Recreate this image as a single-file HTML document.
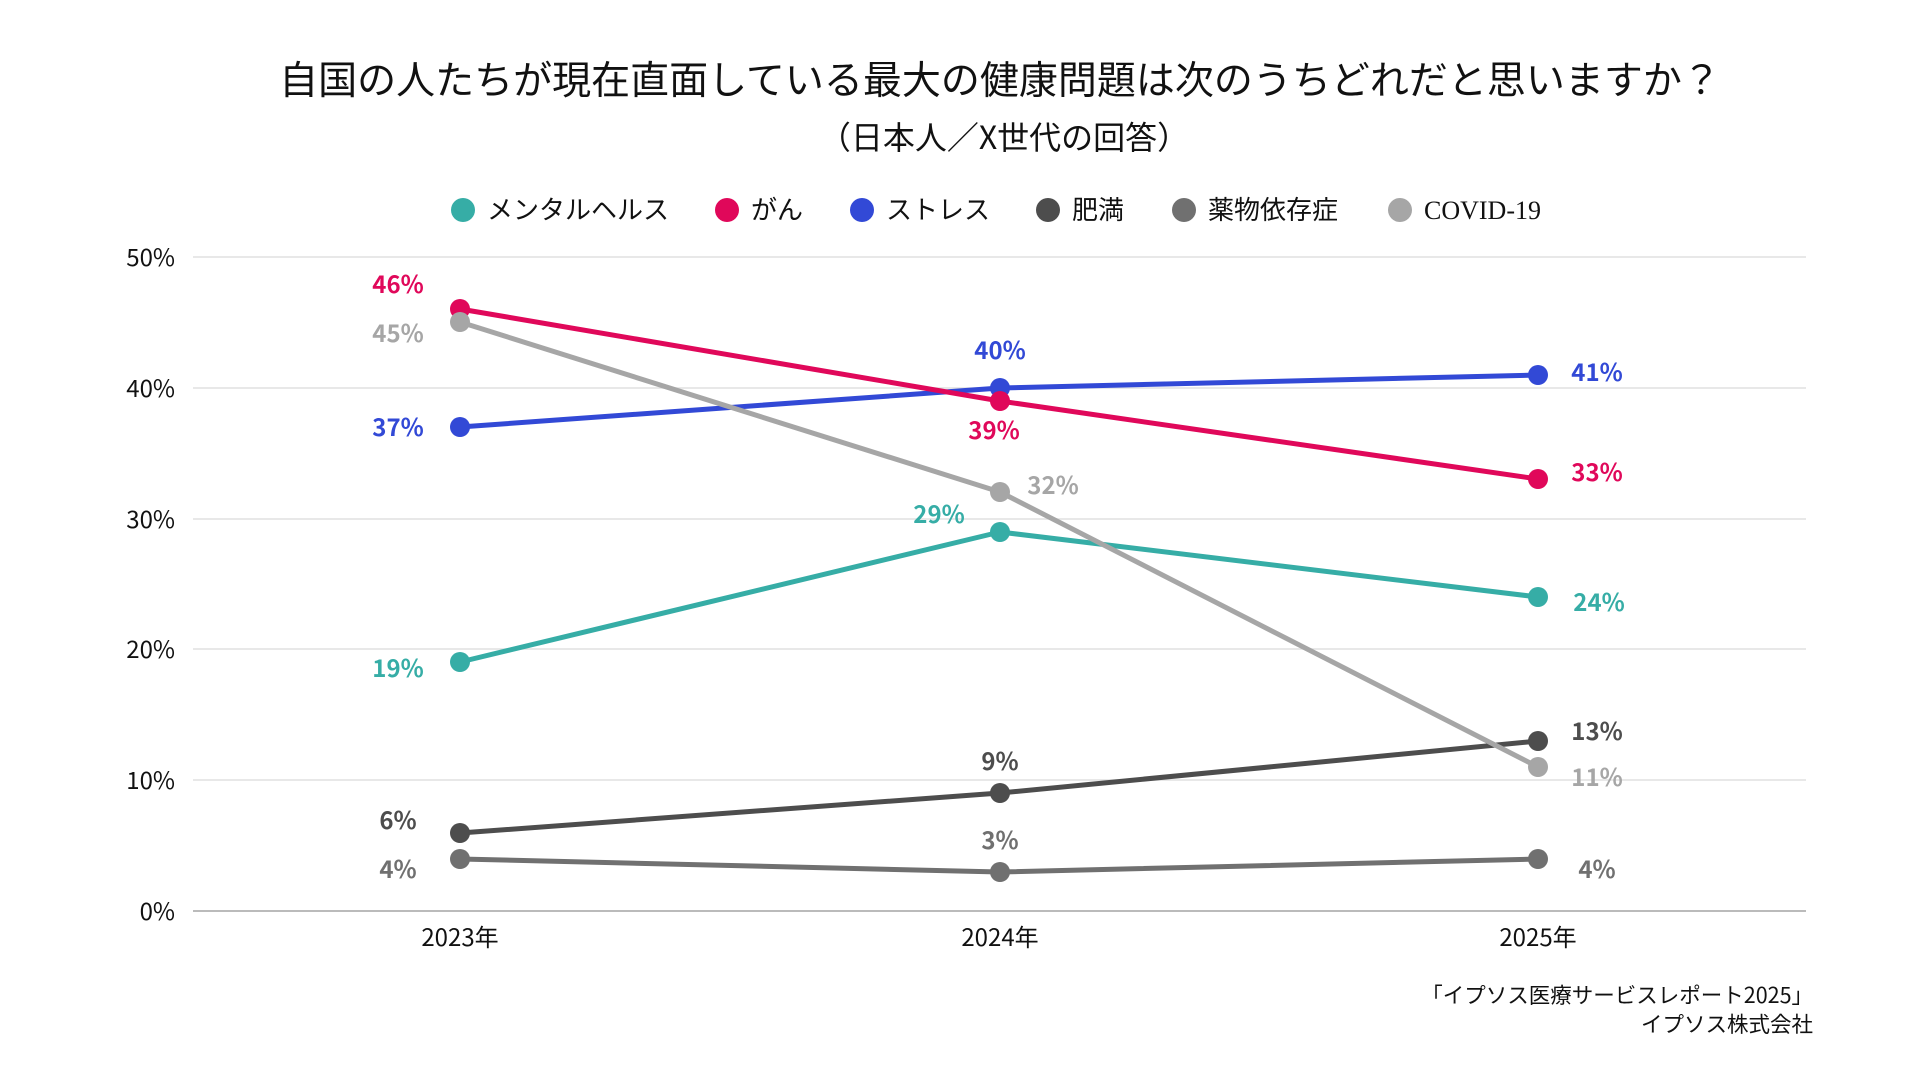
<!DOCTYPE html>
<html><head><meta charset="utf-8"><style>
body{margin:0;background:#fff;}
svg text{font-family:"Noto Sans CJK JP","Liberation Sans",sans-serif;}
</style></head><body>
<svg width="1920" height="1080" xmlns="http://www.w3.org/2000/svg">
<text x="1000" y="94" font-size="39" text-anchor="middle" fill="#111">自国の人たちが現在直面している最大の健康問題は次のうちどれだと思いますか？</text>
<text x="1004" y="149" font-size="32" text-anchor="middle" fill="#111">（日本人／X世代の回答）</text>
<g font-size="26" fill="#111">
<circle cx="463" cy="210" r="12" fill="#36ADA6"/><text x="487" y="219">メンタルヘルス</text>
<circle cx="727" cy="210" r="12" fill="#E0085A"/><text x="751" y="219">がん</text>
<circle cx="862" cy="210" r="12" fill="#3249D6"/><text x="886" y="219">ストレス</text>
<circle cx="1048" cy="210" r="12" fill="#4D4D4D"/><text x="1072" y="219">肥満</text>
<circle cx="1184" cy="210" r="12" fill="#707070"/><text x="1208" y="219">薬物依存症</text>
<circle cx="1400" cy="210" r="12" fill="#A6A6A6"/><text x="1424" y="219" style="font-family:'Liberation Serif',serif">COVID-19</text>
</g>
<g stroke="#e0e0e0" stroke-width="1.5">
<line x1="193" x2="1806" y1="257" y2="257"/><line x1="193" x2="1806" y1="388" y2="388"/>
<line x1="193" x2="1806" y1="519" y2="519"/><line x1="193" x2="1806" y1="649" y2="649"/>
<line x1="193" x2="1806" y1="780" y2="780"/>
</g>
<line x1="193" x2="1806" y1="911" y2="911" stroke="#bbb" stroke-width="2"/>
<g font-size="24" fill="#111" text-anchor="end">
<text x="175" y="266">50%</text><text x="175" y="397">40%</text><text x="175" y="528">30%</text>
<text x="175" y="658">20%</text><text x="175" y="789">10%</text><text x="175" y="920">0%</text>
</g>
<g font-size="24" fill="#111" text-anchor="middle">
<text x="460" y="946">2023年</text><text x="1000" y="946">2024年</text><text x="1538" y="946">2025年</text>
</g>
<g stroke-width="5" fill="none" stroke-linejoin="round">
<polyline points="460,859 1000,872 1538,859" stroke="#707070"/>
<polyline points="460,833 1000,793 1538,741" stroke="#4D4D4D"/>
<polyline points="460,662 1000,532 1538,597" stroke="#36ADA6"/>
<polyline points="460,427 1000,388 1538,375" stroke="#3249D6"/>
<polyline points="460,309 1000,401 1538,479" stroke="#E0085A"/>
<polyline points="460,322 1000,492 1538,767" stroke="#A6A6A6"/>
</g>
<g>
<g fill="#707070"><circle cx="460" cy="859" r="10"/><circle cx="1000" cy="872" r="10"/><circle cx="1538" cy="859" r="10"/></g>
<g fill="#4D4D4D"><circle cx="460" cy="833" r="10"/><circle cx="1000" cy="793" r="10"/><circle cx="1538" cy="741" r="10"/></g>
<g fill="#36ADA6"><circle cx="460" cy="662" r="10"/><circle cx="1000" cy="532" r="10"/><circle cx="1538" cy="597" r="10"/></g>
<g fill="#3249D6"><circle cx="460" cy="427" r="10"/><circle cx="1000" cy="388" r="10"/><circle cx="1538" cy="375" r="10"/></g>
<g fill="#E0085A"><circle cx="460" cy="309" r="10"/><circle cx="1000" cy="401" r="10"/><circle cx="1538" cy="479" r="10"/></g>
<g fill="#A6A6A6"><circle cx="460" cy="322" r="10"/><circle cx="1000" cy="492" r="10"/><circle cx="1538" cy="767" r="10"/></g>
</g>
<g font-size="24" font-weight="bold" text-anchor="middle">
<text x="398" y="293" fill="#E0085A">46%</text>
<text x="398" y="342" fill="#A6A6A6">45%</text>
<text x="398" y="436" fill="#3249D6">37%</text>
<text x="398" y="677" fill="#36ADA6">19%</text>
<text x="398" y="829" fill="#4D4D4D">6%</text>
<text x="398" y="878" fill="#707070">4%</text>
<text x="1000" y="359" fill="#3249D6">40%</text>
<text x="994" y="439" fill="#E0085A">39%</text>
<text x="1053" y="494" fill="#A6A6A6">32%</text>
<text x="939" y="523" fill="#36ADA6">29%</text>
<text x="1000" y="770" fill="#4D4D4D">9%</text>
<text x="1000" y="849" fill="#707070">3%</text>
<text x="1597" y="381" fill="#3249D6">41%</text>
<text x="1597" y="481" fill="#E0085A">33%</text>
<text x="1599" y="611" fill="#36ADA6">24%</text>
<text x="1597" y="740" fill="#4D4D4D">13%</text>
<text x="1597" y="786" fill="#A6A6A6">11%</text>
<text x="1597" y="878" fill="#707070">4%</text>
</g>
<g font-size="21.5" fill="#111" text-anchor="end">
<text x="1813" y="1003">「イプソス医療サービスレポート2025」</text>
<text x="1813" y="1032">イプソス株式会社</text>
</g>
</svg>
</body></html>
